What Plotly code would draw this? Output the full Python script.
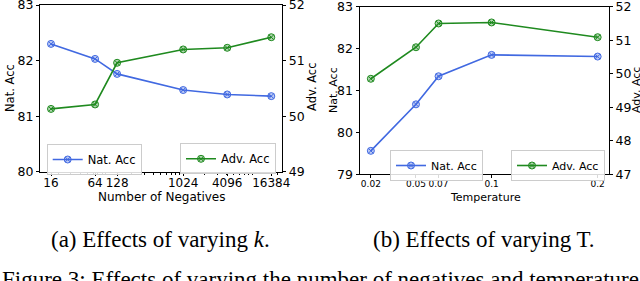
import math
import plotly.graph_objects as go

# ---------------- data ----------------
negatives = [16, 64, 128, 1024, 4096, 16384]
negatives_labels = ["16", "64", "128", "1024", "4096", "16384"]
nat_acc_k = [82.30, 82.03, 81.76, 81.47, 81.39, 81.36]
adv_acc_k = [50.13, 50.21, 50.96, 51.20, 51.23, 51.42]

temp_labels = ["0.02", "0.05", "0.07", "0.1", "0.2"]
temp_axis_pos = [0, 2, 3, 5.35, 10.05]   # position of each temperature on the (custom) x scale
nat_acc_t = [79.56, 80.67, 81.34, 81.85, 81.81]
adv_acc_t = [49.85, 50.79, 51.50, 51.53, 51.09]

minor_k = [20, 30, 40, 50, 60, 70, 80, 90, 200, 300, 400, 500, 600, 700, 800, 900,
           2000, 3000, 4000, 5000, 6000, 7000, 8000, 9000, 20000]

# ---------------- style ----------------
W, H = 640, 281
BLUE = "#4169E1"
GREEN = "#1f8a1f"
FONT = "DejaVu Sans"
SERIF = "Liberation Serif, Times New Roman, serif"


def px(x):
    return x / W


def py(y):
    return 1 - y / H


fig = go.Figure()


def add_series(x, y, name, color, fill, xa, ya, legend):
    fig.add_trace(go.Scatter(
        x=x, y=y, name=name, mode="lines+markers",
        line=dict(color=color, width=1.6),
        marker=dict(symbol="circle-x", size=7, color=fill,
                    line=dict(color=color, width=1)),
        xaxis=xa, yaxis=ya, legend=legend, showlegend=True,
    ))


add_series(negatives, nat_acc_k, "Nat. Acc", BLUE, "rgba(65,105,225,0.35)", "x", "y", "legend")
add_series(negatives, adv_acc_k, "Adv. Acc", GREEN, "rgba(31,138,31,0.35)", "x", "y2", "legend2")
add_series(temp_axis_pos, nat_acc_t, "Nat. Acc", BLUE, "rgba(65,105,225,0.35)", "x2", "y3", "legend3")
add_series(temp_axis_pos, adv_acc_t, "Adv. Acc", GREEN, "rgba(31,138,31,0.35)", "x2", "y4", "legend4")


def axis(size=12.5, **kw):
    d = dict(showline=True, linecolor="black", linewidth=1, ticks="outside",
             ticklen=3, tickwidth=1, tickcolor="black", showgrid=False,
             zeroline=False, tickangle=0, ticklabeloverflow="allow", automargin=False,
             tickfont=dict(family=FONT, size=size, color="black"))
    d.update(kw)
    return d


lo = math.log10(2 ** 3.5)
hi = math.log10(2 ** 14.5)

fig.update_layout(
    width=W, height=H,
    margin=dict(l=0, r=0, t=0, b=0, autoexpand=False),
    paper_bgcolor="white", plot_bgcolor="white",
    font=dict(family=FONT, color="black"),
    xaxis=axis(12, domain=[px(40), px(282.3)], anchor="y", type="log", range=[lo, hi],
               tickmode="array", tickvals=negatives, ticktext=negatives_labels,
               mirror=True, ticklabelstandoff=-3,
               minor=dict(tickmode="array", tickvals=minor_k, ticks="outside",
                          ticklen=2, tickcolor="black", showgrid=False)),
    yaxis=axis(12.5, domain=[py(171.7), py(5)], anchor="x", range=[80, 83],
               tickvals=[80, 81, 82, 83]),
    yaxis2=axis(12.5, overlaying="y", side="right", anchor="x", range=[49, 52],
                tickvals=[49, 50, 51, 52]),
    xaxis2=axis(9, domain=[px(359.5), px(609)], anchor="y3", range=[-0.5025, 10.5525],
                tickmode="array", tickvals=temp_axis_pos, ticktext=temp_labels,
                mirror=True, ticklabelstandoff=-2),
    yaxis3=axis(12.5, domain=[py(174.3), py(6.7)], anchor="x2", range=[79, 83],
                tickvals=[79, 80, 81, 82, 83]),
    yaxis4=axis(12.5, overlaying="y3", side="right", anchor="x2", range=[47, 52],
                tickvals=[47, 48, 49, 50, 51, 52]),
)

leg_common = dict(bgcolor="rgba(255,255,255,0.85)", bordercolor="#cccccc", borderwidth=1,
                  yanchor="top", itemwidth=30)
fig.update_layout(
    legend=dict(x=px(46.7), y=py(144), xanchor="left",
                font=dict(family=FONT, size=11.5, color="black"), **leg_common),
    legend2=dict(x=px(276), y=py(143.3), xanchor="right",
                 font=dict(family=FONT, size=11.5, color="black"), **leg_common),
    legend3=dict(x=px(390), y=py(150), xanchor="left",
                 font=dict(family=FONT, size=11, color="black"), **leg_common),
    legend4=dict(x=px(605), y=py(150), xanchor="right",
                 font=dict(family=FONT, size=11, color="black"), **leg_common),
)

annotations = [
    # axis titles
    dict(text="Nat. Acc", x=px(10.5), y=py(88.5), textangle=-90, font=dict(size=11.5)),
    dict(text="Adv. Acc", x=px(312), y=py(87), textangle=-90, font=dict(size=11.5)),
    dict(text="Number of Negatives", x=px(161.7), y=py(196.5), font=dict(size=12)),
    dict(text="Nat. Acc", x=px(333), y=py(90), textangle=-90, font=dict(size=11)),
    dict(text="Adv. Acc", x=px(636), y=py(90), textangle=-90, font=dict(size=11)),
    dict(text="Temperature", x=px(485), y=py(197), font=dict(size=11)),
    # sub-captions
    dict(text="(a) Effects of varying <i>k</i>.", x=px(160), y=py(239),
         font=dict(family=SERIF, size=23)),
    dict(text="(b) Effects of varying T.", x=px(484), y=py(239),
         font=dict(family=SERIF, size=23)),
    dict(text="Figure 3: Effects of varying the number of negatives and temperature.",
         x=px(0), y=py(265), xanchor="left", yanchor="top",
         font=dict(family=SERIF, size=23)),
]
for a in annotations:
    a.setdefault("xanchor", "center")
    a.setdefault("yanchor", "middle")
    f = a["font"]
    f.setdefault("family", FONT)
    f.setdefault("color", "black")
    fig.add_annotation(xref="paper", yref="paper", showarrow=False, **a)

fig.write_html("out.html", config={"displayModeBar": False},
               post_script="document.body.style.margin='0';")
